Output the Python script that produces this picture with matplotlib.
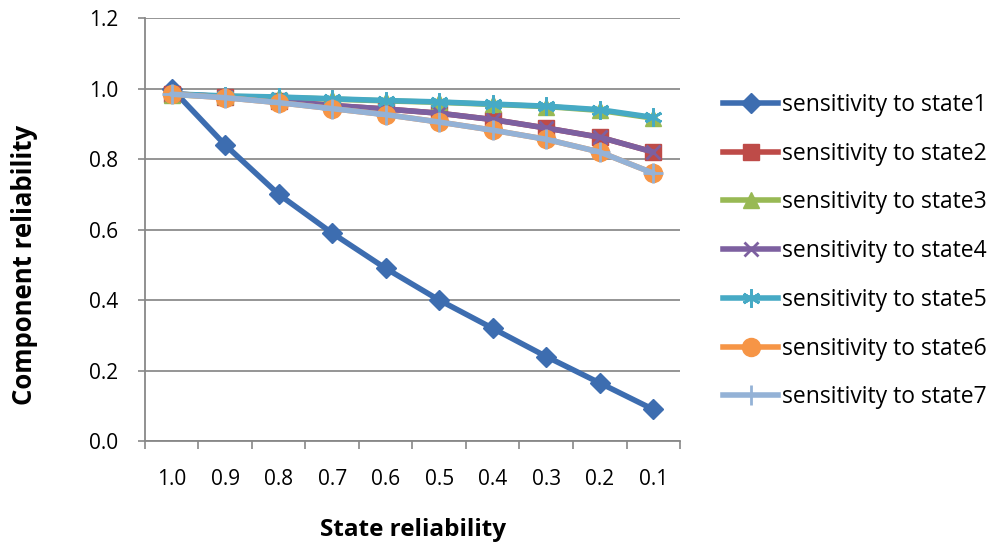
import matplotlib
matplotlib.use("Agg")
import matplotlib.pyplot as plt
from matplotlib.lines import Line2D

categories = ["1.0", "0.9", "0.8", "0.7", "0.6", "0.5", "0.4", "0.3", "0.2", "0.1"]
state1 = [1.00, 0.84, 0.70, 0.59, 0.49, 0.40, 0.32, 0.24, 0.165, 0.09]
state2 = [0.985, 0.977, 0.965, 0.952, 0.942, 0.930, 0.912, 0.888, 0.862, 0.820]
state3 = [0.982, 0.978, 0.975, 0.970, 0.965, 0.961, 0.955, 0.949, 0.938, 0.916]
state4 = [0.985, 0.977, 0.965, 0.952, 0.942, 0.930, 0.912, 0.888, 0.862, 0.820]
state5 = [0.985, 0.979, 0.976, 0.971, 0.966, 0.962, 0.956, 0.950, 0.940, 0.918]
state6 = [0.984, 0.974, 0.960, 0.943, 0.926, 0.905, 0.882, 0.856, 0.820, 0.760]
state7 = [0.984, 0.974, 0.960, 0.943, 0.926, 0.905, 0.882, 0.856, 0.820, 0.760]
labels = ["sensitivity to state1", "sensitivity to state2", "sensitivity to state3",
          "sensitivity to state4", "sensitivity to state5", "sensitivity to state6",
          "sensitivity to state7"]

colors = ["#3D6DB0", "#BE4B48", "#98B954", "#7D60A0", "#46AAC5", "#F69546", "#94B2D6"]
markers = ["D", "s", "^", "x", (6, 2, 0), "o", "+"]
msizes = [10, 11, 12, 10, 13, 13, 14]

plt.rcParams['font.family'] = ['Open Sans', 'DejaVu Sans']

fig = plt.figure(figsize=(10.06, 5.46), dpi=100)
ax = fig.add_axes([0.144, 0.192, 0.532, 0.775])

x = list(range(len(categories)))
series = [state1, state2, state3, state4, state5, state6, state7]
handles = []
for i, (s, c, m, ms, lab) in enumerate(zip(series, colors, markers, msizes, labels)):
    thin = m in ("x", "+") or isinstance(m, tuple)
    mew = 2 if thin else 1
    ax.plot(x, s, color=c, lw=4, marker=m, markersize=ms, markerfacecolor=c,
            markeredgecolor=c, markeredgewidth=mew, zorder=3 + i,
            solid_capstyle="round")
    handles.append(Line2D([0], [0], color=c, lw=4, marker=m, markersize=ms,
                          markerfacecolor=c, markeredgecolor=c,
                          markeredgewidth=mew, label=lab))

ax.set_xlim(-0.5, len(categories) - 0.5)
ax.set_ylim(0, 1.2)
ax.set_yticks([0, 0.2, 0.4, 0.6, 0.8, 1.0, 1.2])
ax.set_yticklabels(["0.0", "0.2", "0.4", "0.6", "0.8", "1.0", "1.2"], fontsize=15)
ax.set_xticks(x)
ax.set_xticklabels(categories, fontsize=15)
ax.set_xticks([i - 0.5 for i in range(len(categories) + 1)], minor=True)
ax.tick_params(axis="x", which="major", length=0, pad=20)
ax.tick_params(axis="x", which="minor", length=6, color="#888888", width=1.2, direction="out")
ax.tick_params(axis="y", length=5, color="#888888", width=1.2, pad=14)
ax.yaxis.grid(True, color="#8C8C8C", lw=1.3)
ax.set_axisbelow(True)
for sp in ["top", "right"]:
    ax.spines[sp].set_visible(False)
for sp in ["left", "bottom"]:
    ax.spines[sp].set_color("#888888")
    ax.spines[sp].set_linewidth(1.3)

fig.text(413 / 1006, 1 - 530 / 546, "State reliability", fontsize=17.5,
         fontweight="bold", ha="center", va="center")
fig.text(25 / 1006, 1 - 265 / 546, "Component reliability", fontsize=18.5,
         fontweight="bold", ha="center", va="center", rotation=90)

fig.legend(handles=handles, loc="center left", bbox_to_anchor=(0.703, 0.54),
           frameon=False, fontsize=16.5, handlelength=2.4, handletextpad=0.15,
           labelspacing=1.08, borderpad=0.2)

fig.savefig("out.png", dpi=100)
